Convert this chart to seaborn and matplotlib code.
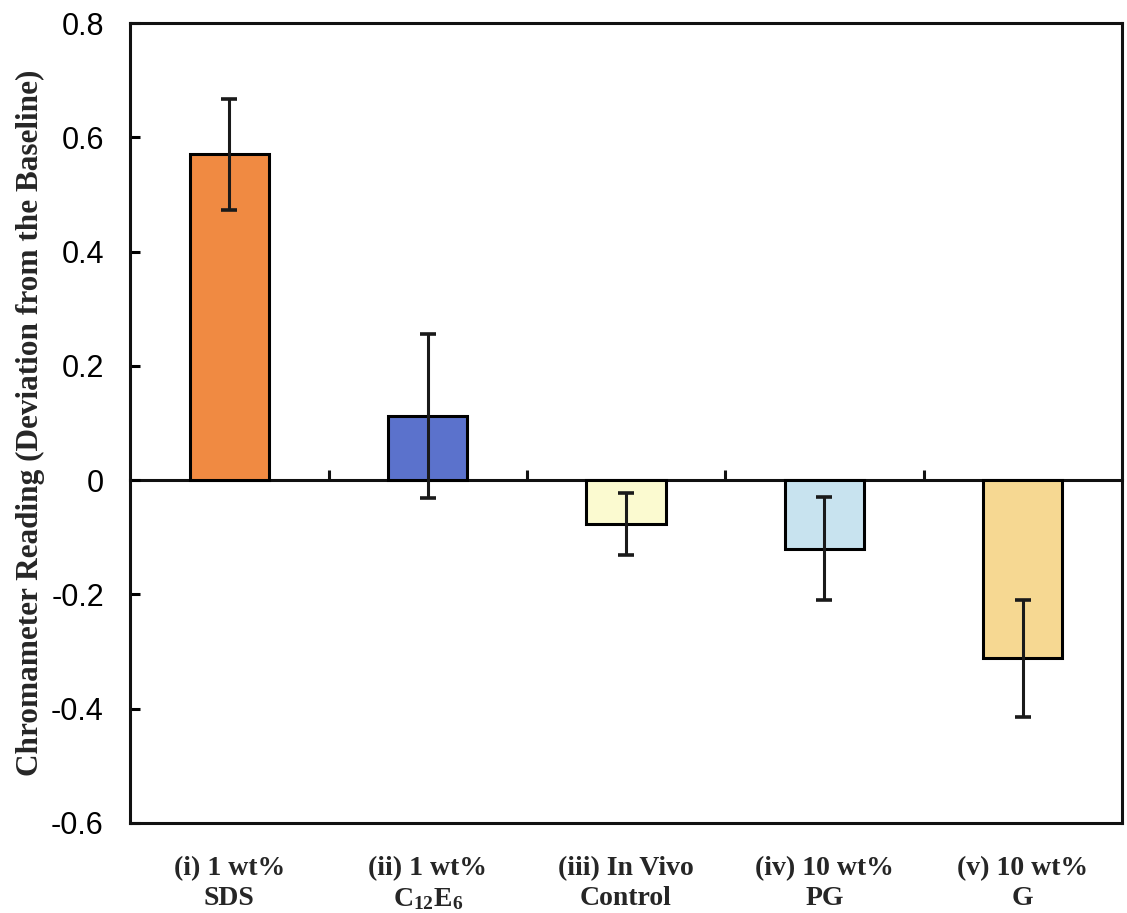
import matplotlib
matplotlib.use("Agg")
import matplotlib.pyplot as plt
import seaborn as sns
import pandas as pd

categories = ["(i) 1 wt%\nSDS",
              "(ii) 1 wt%\nC$_{\\mathbf{12}}$E$_{\\mathbf{6}}$",
              "(iii) In Vivo\nControl",
              "(iv) 10 wt%\nPG",
              "(v) 10 wt%\nG"]
values = [0.570, 0.112, -0.077, -0.120, -0.312]
errors = [0.097, 0.143, 0.054, 0.090, 0.102]
colors = ["#F08A42", "#5B72CC", "#FBFAD0", "#C8E3EF", "#F6D892"]
yticks = [-0.6, -0.4, -0.2, 0, 0.2, 0.4, 0.6, 0.8]
ytick_labels = ["-0.6", "-0.4", "-0.2", "0", "0.2", "0.4", "0.6", "0.8"]
ylabel = "Chromameter Reading (Deviation from the Baseline)"

sns.set_theme(style="white")
plt.rcParams["font.family"] = ["Liberation Sans", "DejaVu Sans"]
plt.rcParams["mathtext.fontset"] = "custom"
plt.rcParams["mathtext.rm"] = "Liberation Serif:bold"
plt.rcParams["mathtext.bf"] = "Liberation Serif:bold"
plt.rcParams["mathtext.it"] = "Liberation Serif:bold:italic"

df = pd.DataFrame({"cat": categories, "val": values})

fig = plt.figure(figsize=(11.27, 9.13), dpi=100)
ax = fig.add_axes([0.1155, 0.0986, 0.88, 0.8762])

sns.barplot(data=df, x="cat", y="val", hue="cat", palette=colors, legend=False,
            width=0.40, edgecolor="black", linewidth=2.2, saturation=1, ax=ax,
            errorbar=None)
ax.errorbar(range(len(values)), values, yerr=errors, fmt="none", ecolor="#1a1a1a",
            elinewidth=2.2, capsize=6, capthick=2.6, zorder=5)

ax.set_xlim(-0.5, len(categories) - 0.5)
ax.set_ylim(-0.6, 0.8)
ax.set_yticks(yticks)
ax.set_yticklabels(ytick_labels, fontsize=22, family=["Liberation Sans"])
ax.set_xticks(range(len(categories)))
ax.set_xticklabels(categories, fontsize=20, family=["Liberation Serif"],
                   fontweight="bold", linespacing=1.25)
ax.tick_params(axis="x", length=0, pad=24)
ax.tick_params(axis="y", direction="in", length=7, width=2.2, pad=19, left=True, colors="black")
ax.set_xlabel("")
ax.set_ylabel(ylabel, fontsize=22.5, family=["Liberation Serif"], fontweight="bold",
              labelpad=4)
for s in ax.spines.values():
    s.set_visible(True)
    s.set_color("#111111")
    s.set_linewidth(2.2)

# zero line with boundary tick marks
sec = ax.secondary_xaxis(0, transform=ax.transData)
sec.set_xticks([i + 0.5 for i in range(len(categories) - 1)])
sec.set_xticklabels([""] * (len(categories) - 1))
sec.tick_params(axis="x", direction="in", length=7, width=2.2, colors="#111111")
sec.spines["bottom"].set_linewidth(2.2)
sec.spines["bottom"].set_color("#111111")

fig.savefig("out.png", dpi=100, facecolor="white")
